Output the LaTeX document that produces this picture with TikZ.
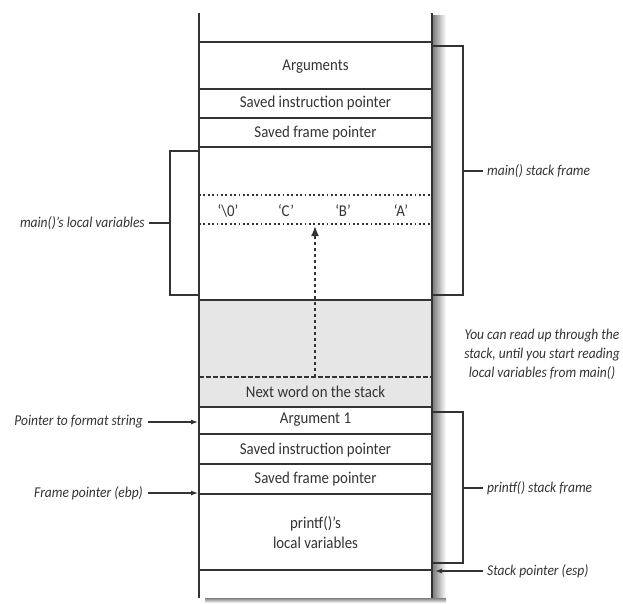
\documentclass[tikz,border=0pt]{standalone}
\usepackage{fontspec}
\setmainfont{Carlito}[FakeStretch=0.9]
\usetikzlibrary{arrows.meta}
\definecolor{ink}{HTML}{333333}
\definecolor{cellgray}{HTML}{E6E6E6}

\begin{document}
\begin{tikzpicture}[x=1pt,y=-1pt,
  wall/.style={draw=ink, line width=2pt},
  rule/.style={draw=ink, line width=1.7pt},
  cell/.style={font=\fontsize{16.5}{20}\selectfont, text=ink, inner sep=0pt, align=center},
  lbl/.style={font=\fontsize{15}{19}\itshape\selectfont, text=ink, inner sep=0pt, align=center},
  bracket/.style={draw=ink, line width=1.2pt},
  ptr/.style={draw=ink, line width=1.2pt, -{Latex[length=7pt,width=5pt]}},
  dotrule/.style={draw=ink, line width=1.7pt, dash pattern=on 1.8pt off 2.6pt},
  dashrule/.style={draw=ink, line width=1.5pt, dash pattern=on 4.5pt off 2.5pt},
  readup/.style={draw=ink, line width=1.8pt, dash pattern=on 3pt off 3pt, -{Latex[length=10pt,width=8pt]}},
]
\useasboundingbox (0,0) rectangle (623,603);

% shaded region read by printf()
\fill[cellgray] (199,300) rectangle (432,407);

% drop shadow of the stack column
\shade[left color=black!50, right color=white] (433,15) rectangle (446,600);
\shade[top color=black!50, bottom color=white] (205,598) rectangle (446,603);

% stack walls
\draw[wall] (199,13) -- (199,598);
\draw[wall] (432,13) -- (432,598);

% slot boundaries
\foreach \y in {42,89,118,147,300,407,434,464,494,570}
  \draw[rule] (199,\y) -- (432,\y);

% main()'s frame
\node[cell] (args)   at (315.5,67)  {Arguments};
\node[cell] (mainip) at (315.5,103) {Saved instruction pointer};
\node[cell] (mainfp) at (315.5,133) {Saved frame pointer};

% the string in main()'s locals
\draw[dotrule] (199,195) -- (432,195);
\draw[dotrule] (199,224) -- (432,224);
\node[cell] (c0) at (228,211) {‘\textbackslash 0’};
\node[cell] (cC) at (286,211) {‘C’};
\node[cell] (cB) at (343,211) {‘B’};
\node[cell] (cA) at (401,211) {‘A’};

% next word and the read-up arrow
\draw[dashrule] (199,377) -- (432,377);
\coordinate (readbase) at (315,377);
\coordinate (readtop) at (315,226);
\draw[readup] (readbase) -- (readtop);
\node[cell] (next) at (315.5,392) {Next word on the stack};

% printf()'s frame
\node[cell] (arg1)   at (315.5,420) {Argument 1};
\node[cell] (pfip)   at (315.5,450) {Saved instruction pointer};
\node[cell] (pffp)   at (315.5,479) {Saved frame pointer};
\node[cell] (pflocal) at (315.5,533) {printf()’s\\local variables};

% left-hand annotations
\node[lbl, anchor=east] (mainloc) at (145,223) {main()’s local variables};
\draw[bracket] (199,151) -- (170,151) -- (170,295) -- (199,295);
\draw[bracket] (170,223) -- ([xshift=4pt]mainloc.east);

\node[lbl, anchor=east] (fmt) at (143,422) {Pointer to format string};
\coordinate (fmttip) at (198,422);
\draw[ptr] ([xshift=5pt]fmt.east) -- (fmttip);

\node[lbl, anchor=east] (ebp) at (143,493) {Frame pointer (ebp)};
\coordinate (ebptip) at (198,493);
\draw[ptr] ([xshift=5pt]ebp.east) -- (ebptip);

% right-hand annotations
\node[lbl, anchor=west] (mainframe) at (487,171) {main() stack frame};
\draw[bracket] (432,46) -- (463,46) -- (463,295) -- (432,295);
\draw[bracket] (463,171) -- ([xshift=-4pt]mainframe.west);

\node[lbl] (note) at (542,354) {You can read up through the\\stack, until you start reading\\local variables from main()};

\node[lbl, anchor=west] (pfframe) at (487,488) {printf() stack frame};
\draw[bracket] (432,412) -- (463,412) -- (463,563) -- (432,563);
\draw[bracket] (463,488) -- ([xshift=-4pt]pfframe.west);

\node[lbl, anchor=west] (esp) at (487,571) {Stack pointer (esp)};
\coordinate (esptip) at (435,571);
\draw[ptr] ([xshift=-4pt]esp.west) -- (esptip);
\end{tikzpicture}
\end{document}
